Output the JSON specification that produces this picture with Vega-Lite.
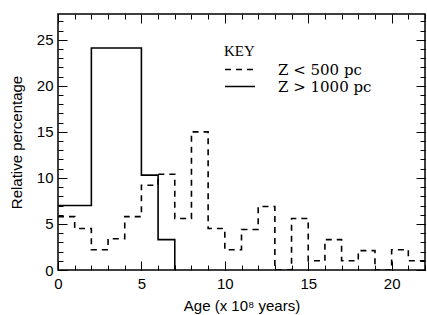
{
  "$schema": "https://vega.github.io/schema/vega-lite/v6.json",
  "width": 367,
  "height": 256,
  "autosize": {"type": "none"},
  "padding": {"left": 58, "top": 14, "right": 2, "bottom": 45},
  "background": "white",
  "config": {
    "view": {"stroke": "black", "strokeWidth": 1.5}
  },
  "data": {"values": [
    {"series": "Z < 500 pc", "age": 0, "pct": 5.8},
    {"series": "Z < 500 pc", "age": 1, "pct": 4.5},
    {"series": "Z < 500 pc", "age": 2, "pct": 2.2},
    {"series": "Z < 500 pc", "age": 3, "pct": 3.4},
    {"series": "Z < 500 pc", "age": 4, "pct": 5.8},
    {"series": "Z < 500 pc", "age": 5, "pct": 9.2},
    {"series": "Z < 500 pc", "age": 6, "pct": 10.4},
    {"series": "Z < 500 pc", "age": 7, "pct": 5.6},
    {"series": "Z < 500 pc", "age": 8, "pct": 15.0},
    {"series": "Z < 500 pc", "age": 9, "pct": 4.5},
    {"series": "Z < 500 pc", "age": 10, "pct": 2.2},
    {"series": "Z < 500 pc", "age": 11, "pct": 4.4},
    {"series": "Z < 500 pc", "age": 12, "pct": 6.9},
    {"series": "Z < 500 pc", "age": 13, "pct": 0},
    {"series": "Z < 500 pc", "age": 14, "pct": 5.6},
    {"series": "Z < 500 pc", "age": 15, "pct": 1.0},
    {"series": "Z < 500 pc", "age": 16, "pct": 3.3},
    {"series": "Z < 500 pc", "age": 17, "pct": 1.0},
    {"series": "Z < 500 pc", "age": 18, "pct": 2.1},
    {"series": "Z < 500 pc", "age": 19, "pct": 0},
    {"series": "Z < 500 pc", "age": 20, "pct": 2.2},
    {"series": "Z < 500 pc", "age": 21, "pct": 1.0},
    {"series": "Z < 500 pc", "age": 22, "pct": 1.0},
    {"series": "Z > 1000 pc", "age": 0, "pct": 7.0},
    {"series": "Z > 1000 pc", "age": 2, "pct": 24.1},
    {"series": "Z > 1000 pc", "age": 5, "pct": 10.3},
    {"series": "Z > 1000 pc", "age": 6, "pct": 3.3},
    {"series": "Z > 1000 pc", "age": 7, "pct": 0}
  ]},
  "resolve": {"axis": {"x": "independent", "y": "independent"}},
  "layer": [
    {
      "mark": {"type": "line", "interpolate": "step-after", "color": "black", "strokeWidth": 1.6, "clip": true},
      "encoding": {
        "x": {"field": "age", "type": "quantitative", "scale": {"domain": [0, 22], "nice": false, "zero": false},
          "axis": {"orient": "bottom", "values": [0, 5, 10, 15, 20], "ticks": false, "grid": false, "domain": false,
            "labelPadding": 6, "labelFlush": false, "labelFont": "Liberation Sans", "labelFontSize": 15, "labelColor": "black",
            "title": "Age (x 10⁸ years)", "titlePadding": 7, "titleFont": "Liberation Sans", "titleFontSize": 15, "titleFontWeight": "normal", "titleColor": "black"}},
        "y": {"field": "pct", "type": "quantitative", "scale": {"domain": [0, 27.8], "nice": false},
          "axis": {"orient": "left", "values": [0, 5, 10, 15, 20, 25], "ticks": false, "grid": false, "domain": false,
            "labelPadding": 5, "labelFlush": false, "labelFont": "Liberation Sans", "labelFontSize": 15, "labelColor": "black",
            "title": "Relative percentage", "titlePadding": 12, "titleFont": "Liberation Sans", "titleFontSize": 15, "titleFontWeight": "normal", "titleColor": "black"}},
        "strokeDash": {"field": "series", "type": "nominal",
          "scale": {"domain": ["Z < 500 pc", "Z > 1000 pc"], "range": [[6, 5], [1, 0]]},
          "legend": {"orient": "none", "legendX": 166, "legendY": 30, "title": "KEY", "titleFont": "Liberation Serif", "titleFontSize": 15, "titleFontWeight": "normal", "titleColor": "black", "titlePadding": 2,
            "labelFont": "DejaVu Serif", "labelFontSize": 15, "labelColor": "black", "labelOffset": 22, "clipHeight": 17,
            "symbolType": "stroke", "symbolSize": 900, "symbolStrokeColor": "black", "symbolStrokeWidth": 1.6, "rowPadding": 0}}
      }
    },
    {
      "mark": {"type": "point", "opacity": 0},
      "encoding": {
        "x": {"field": "age", "type": "quantitative",
          "axis": {"orient": "top", "offset": -256, "tickCount": 5, "tickSize": 9, "tickColor": "black", "grid": false, "domain": false, "labels": false, "title": null}},
        "y": {"field": "pct", "type": "quantitative",
          "axis": {"orient": "right", "offset": -367, "tickCount": 6, "tickSize": 9, "tickColor": "black", "grid": false, "domain": false, "labels": false, "title": null}}
      }
    },
    {
      "mark": {"type": "point", "opacity": 0},
      "encoding": {
        "x": {"field": "age", "type": "quantitative",
          "axis": {"orient": "bottom", "offset": -256, "tickCount": 5, "tickSize": 9, "tickColor": "black", "grid": false, "domain": false, "labels": false, "title": null}},
        "y": {"field": "pct", "type": "quantitative",
          "axis": {"orient": "left", "offset": -367, "tickCount": 6, "tickSize": 9, "tickColor": "black", "grid": false, "domain": false, "labels": false, "title": null}}
      }
    },
    {
      "mark": {"type": "point", "opacity": 0},
      "encoding": {
        "x": {"field": "age", "type": "quantitative",
          "axis": {"orient": "top", "offset": -256, "tickCount": 22, "tickSize": 5, "tickColor": "black", "grid": false, "domain": false, "labels": false, "title": null}},
        "y": {"field": "pct", "type": "quantitative",
          "axis": {"orient": "right", "offset": -367, "tickCount": 28, "tickSize": 5, "tickColor": "black", "grid": false, "domain": false, "labels": false, "title": null}}
      }
    },
    {
      "mark": {"type": "point", "opacity": 0},
      "encoding": {
        "x": {"field": "age", "type": "quantitative",
          "axis": {"orient": "bottom", "offset": -256, "tickCount": 22, "tickSize": 5, "tickColor": "black", "grid": false, "domain": false, "labels": false, "title": null}},
        "y": {"field": "pct", "type": "quantitative",
          "axis": {"orient": "left", "offset": -367, "tickCount": 28, "tickSize": 5, "tickColor": "black", "grid": false, "domain": false, "labels": false, "title": null}}
      }
    }
  ]
}
